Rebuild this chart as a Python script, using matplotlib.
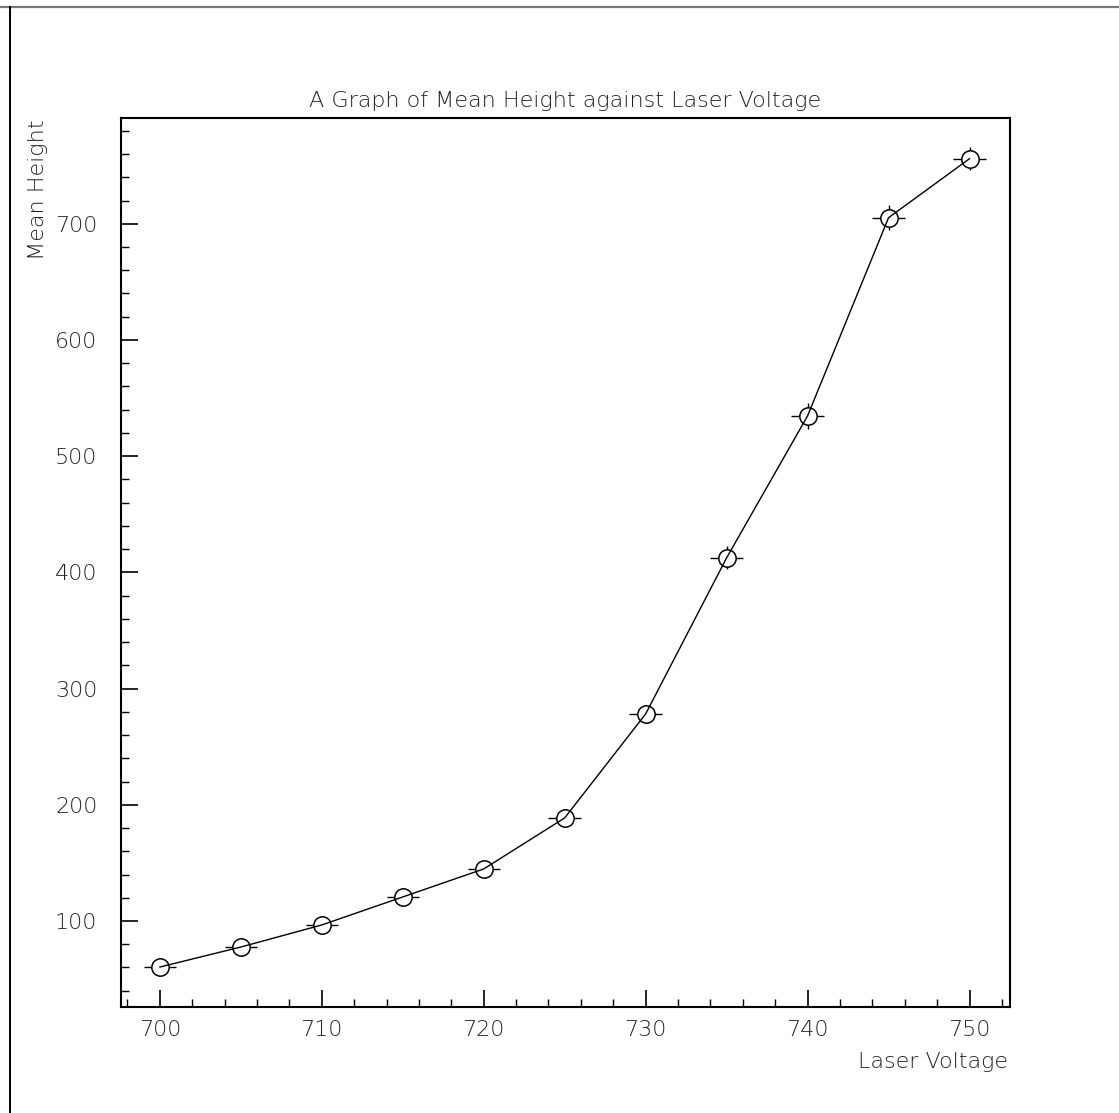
import matplotlib
matplotlib.use("Agg")
import matplotlib.pyplot as plt
from matplotlib.lines import Line2D
from matplotlib.ticker import MultipleLocator

# Mesures : tension du laser et hauteur moyenne
voltage = [700, 705, 710, 715, 720, 725, 730, 735, 740, 745, 750]
mean_height = [60.4, 77.6, 96.6, 120.7, 144.8, 188.7, 278.2, 412.5, 534.7, 705.2, 756.0]
voltage_err = [1, 1, 1, 1, 1, 1, 1, 1, 1, 1, 1]
height_err = [3, 3, 4, 4, 5, 5, 6, 10, 11, 11, 10]

plt.rcParams['font.family'] = ['DejaVu Sans']
W, H = 1119, 1113
fig = plt.figure(figsize=(W / 100, H / 100), dpi=100)
ax = fig.add_axes([121 / W, 1 - 1007 / H, 889 / W, 889 / H])

txt = dict(color='#222222', fontweight='light')

# barres d'erreur, puis cercles pleins blancs pour les masquer, puis la courbe
ax.errorbar(voltage, mean_height, xerr=voltage_err, yerr=height_err,
			fmt='none', ecolor='black', elinewidth=1.0, capsize=0, zorder=1)
ax.plot(voltage, mean_height, 'o', mfc='white', mec='black', ms=12.5, mew=1.1, zorder=2)
ax.plot(voltage, mean_height, color='black', lw=1.0, zorder=3)

ax.set_xlim(697.6, 752.5)
ax.set_ylim(26, 791)

ax.xaxis.set_major_locator(MultipleLocator(10))
ax.xaxis.set_minor_locator(MultipleLocator(2))
ax.yaxis.set_major_locator(MultipleLocator(100))
ax.yaxis.set_minor_locator(MultipleLocator(20))
ax.tick_params(which='major', direction='in', length=12, width=1.2)
ax.tick_params(which='minor', direction='in', length=6, width=1.0)
ax.tick_params(axis='x', pad=9)
ax.tick_params(axis='y', pad=17)
ax.tick_params(labelsize=16, labelcolor='#222222')
for lab in ax.get_xticklabels() + ax.get_yticklabels():
	lab.set_fontweight('light')
for s in ax.spines.values():
	s.set_linewidth(1.5)

ax.set_title("A Graph of Mean Height against Laser Voltage", fontsize=16, pad=8, **txt)
fig.text(1008 / W, 1 - 1062 / H, "Laser Voltage", ha='right', va='center', fontsize=16, **txt)
fig.text(38 / W, 1 - 120 / H, "Mean Height", ha='center', va='top', rotation=90, fontsize=16, **txt)

# cadre extérieur (haut et gauche)
fig.add_artist(Line2D([0, 1], [1 - 6.5 / H, 1 - 6.5 / H], color='#777777', lw=1.6))
fig.add_artist(Line2D([9.5 / W, 9.5 / W], [0, 1 - 6.5 / H], color='black', lw=1.4))

fig.savefig("out.png", dpi=100)
